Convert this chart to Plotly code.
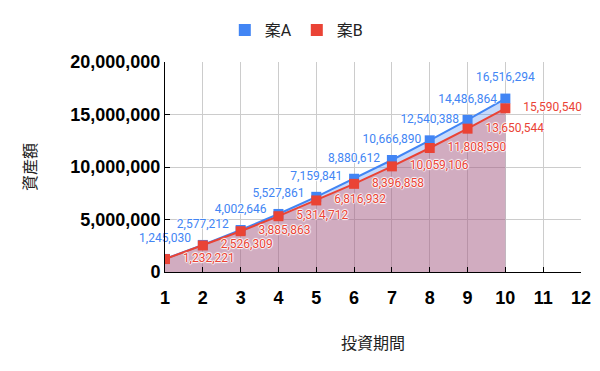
import plotly.graph_objects as go

periods = [1, 2, 3, 4, 5, 6, 7, 8, 9, 10]
plan_a = [1245030, 2577212, 4002646, 5527861, 7159841, 8880612, 10666890, 12540388, 14486864, 16516294]
plan_b = [1232221, 2526309, 3885863, 5314712, 6816932, 8396858, 10059106, 11808590, 13650544, 15590540]
name_a = "案A"
name_b = "案B"

blue = "#4285F4"
red = "#EA4335"
halo = "1px 0px 1px white, -1px 0px 1px white, 0px 1px 1px white, 0px -1px 1px white"
clear = "rgba(0,0,0,0)"

fig = go.Figure()
# series lines, markers and filled areas
fig.add_trace(go.Scatter(
    x=periods, y=plan_a, mode="lines+markers", name=name_a, showlegend=False,
    line=dict(color=blue, width=2), marker=dict(symbol="square", size=10, color=blue),
    fill="tozeroy", fillcolor="rgba(66,133,244,0.3)",
))
fig.add_trace(go.Scatter(
    x=periods, y=plan_b, mode="lines+markers", name=name_b, showlegend=False,
    line=dict(color=red, width=2), marker=dict(symbol="square", size=10, color=red),
    fill="tozeroy", fillcolor="rgba(234,67,53,0.3)",
))
# data labels (transparent markers only set the label offset)
fig.add_trace(go.Scatter(
    x=periods, y=plan_a, mode="markers+text", showlegend=False, hoverinfo="skip",
    marker=dict(size=21, color=clear), cliponaxis=False,
    text=[f"{v:,}" for v in plan_a], textposition="top center",
    textfont=dict(family="Roboto", size=12, color=blue, shadow=halo),
))
fig.add_trace(go.Scatter(
    x=periods, y=plan_b, mode="markers+text", showlegend=False, hoverinfo="skip",
    marker=dict(size=27, color=clear), cliponaxis=False,
    text=[f"{v:,}" for v in plan_b], textposition="middle right",
    textfont=dict(family="Roboto", size=12, color=red, shadow=halo),
))
for nm, c in [(name_a, blue), (name_b, red)]:
    fig.add_trace(go.Scatter(x=[None], y=[None], mode="markers", name=nm,
                             marker=dict(symbol="square", size=9, color=c)))

tickfont = dict(family="Liberation Sans", size=18, color="black", weight="bold")
titlefont = dict(family="Roboto, Noto Sans CJK JP", size=16, color="#222")
# page body has an 8px margin, so the figure is shrunk by 8px to fit the window
fig.update_layout(
    width=592, height=363,
    margin=dict(l=157, r=19, t=54, b=99, autoexpand=False),
    paper_bgcolor="white", plot_bgcolor="white",
    font=dict(family="Roboto", color="#222"),
    legend=dict(orientation="h", x=0.487, xanchor="center", xref="container",
                y=0.939, yanchor="middle", yref="container", font=titlefont,
                itemwidth=30, itemsizing="constant"),
    xaxis=dict(range=[1, 12], dtick=1, tick0=1, showgrid=True, gridcolor="#cccccc",
               showline=True, linecolor="black", linewidth=1,
               ticks="inside", ticklen=5, tickcolor="black", automargin=False,
               tickfont=tickfont, ticklabelstandoff=9,
               title=dict(text="投資期間", font=titlefont, standoff=31),
               zeroline=False),
    yaxis=dict(range=[0, 20000000], dtick=5000000, tickformat=",", showgrid=True,
               gridcolor="#cccccc", showline=True, linecolor="black", linewidth=1,
               ticks="inside", ticklen=5, tickcolor="black", automargin=False,
               tickfont=tickfont,
               title=dict(text="資産額", font=titlefont, standoff=29),
               zeroline=False),
)
fig.write_html("out.html")
